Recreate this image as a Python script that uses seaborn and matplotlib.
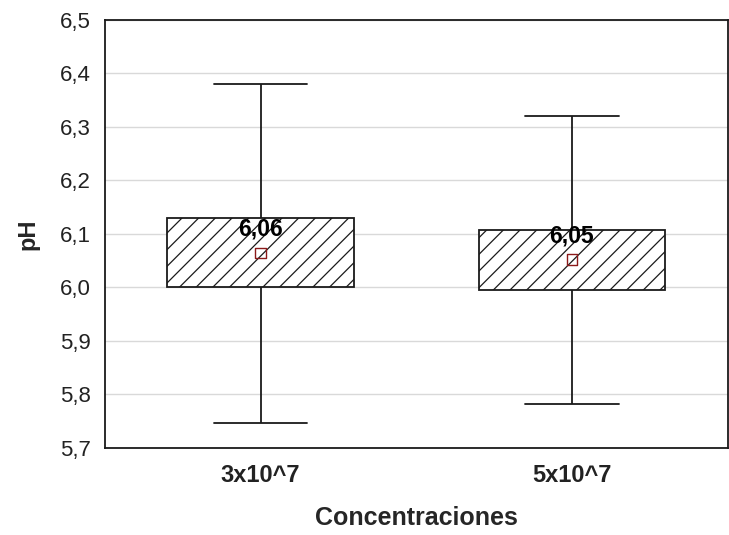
import pandas as pd
import matplotlib
matplotlib.use("Agg")
import matplotlib.pyplot as plt
import seaborn as sns
from matplotlib.ticker import FuncFormatter, MultipleLocator

# ---------- Data ----------
categories = ["3x10^7", "5x10^7"]
mean_values = [6.064, 6.052]
box_low = [6.000, 5.995]
box_high = [6.130, 6.108]
whisker_low = [5.747, 5.782]
whisker_high = [6.380, 6.321]

# Configure style
sns.set_style("white")
plt.rcParams["font.family"] = ["Liberation Sans", "DejaVu Sans"]
plt.rcParams["hatch.linewidth"] = 0.9

# five points per group -> quartiles land on the box edges, whiskers on min/max
rows = []
for cat, lo, b_lo, m, b_hi, hi in zip(categories, whisker_low, box_low,
                                       mean_values, box_high, whisker_high):
    for v in (lo, b_lo, m, b_hi, hi):
        rows.append({"Concentraciones": cat, "pH": v})
df = pd.DataFrame(rows)
means_df = pd.DataFrame({"Concentraciones": categories, "pH": mean_values})

fig = plt.figure(figsize=(7.29, 5.35), dpi=100)
ax = fig.add_axes([0.144, 0.163, 0.854, 0.80])

sns.boxplot(
    data=df, x="Concentraciones", y="pH", whis=(0, 100), width=0.6,
    color="white", linecolor="#1a1a1a", linewidth=1.3,
    medianprops={"linewidth": 0, "visible": False}, ax=ax, zorder=3
)
for p in ax.patches:
    p.set_hatch("//")
    p.set_facecolor("white")
    p.set_edgecolor("#1a1a1a")

sns.scatterplot(
    data=means_df, x="Concentraciones", y="pH", marker="s", s=60,
    facecolor="none", edgecolor="#8b1a1a", linewidth=1.0, ax=ax, zorder=5
)

# mean labels
for i, m in enumerate(mean_values):
    ax.annotate(f"{m:.2f}".replace(".", ","), (i, m), xytext=(0, 17),
                textcoords="offset points", ha="center", va="center",
                fontsize=16.5, fontweight="bold", color="black", zorder=6)

ax.set_xlim(-0.5, 1.5)
ax.set_ylim(5.7, 6.5)
ax.yaxis.set_major_locator(MultipleLocator(0.1))
ax.yaxis.set_major_formatter(FuncFormatter(lambda v, _: f"{v:.1f}".replace(".", ",")))
ax.grid(axis="y", color="#d9d9d9", linewidth=1.0)
ax.grid(axis="x", visible=False)
ax.set_axisbelow(True)

for s in ax.spines.values():
    s.set_visible(True)
    s.set_color("#1a1a1a")
    s.set_linewidth(1.3)

ax.tick_params(axis="y", length=0, labelsize=16, pad=10, labelcolor="#222222")
ax.tick_params(axis="x", direction="in", length=5, width=1.2, labelsize=17,
               pad=12, labelcolor="#222222")
for lab in ax.get_xticklabels():
    lab.set_fontweight("bold")

ax.set_xlabel("Concentraciones", fontsize=18, fontweight="bold", labelpad=13)
ax.set_ylabel("pH", fontsize=17, fontweight="bold", labelpad=15)

fig.savefig("out.png", dpi=100)
